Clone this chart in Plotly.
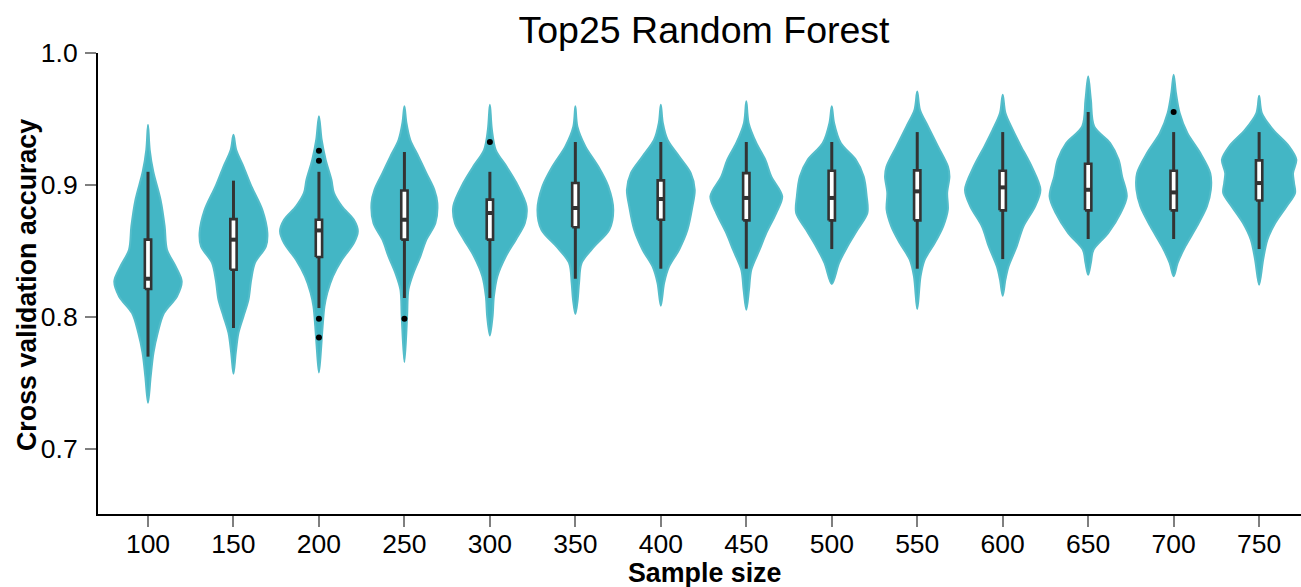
import plotly.graph_objects as go

# Sample sizes on the x axis
sample_sizes = ["100", "150", "200", "250", "300", "350", "400",
                "450", "500", "550", "600", "650", "700", "750"]

# Kernel density outline of each violin: accuracy levels (ascending) and relative density
density_levels = [
    [0.735, 0.755, 0.773, 0.788, 0.803, 0.8156, 0.827, 0.8383, 0.851, 0.8686, 0.889, 0.910, 0.9267, 0.9457],
    [0.757, 0.773, 0.788, 0.8005, 0.813, 0.828, 0.841, 0.8535, 0.8636, 0.881, 0.899, 0.914, 0.9267, 0.938],
    [0.758, 0.778, 0.793, 0.808, 0.8182, 0.8308, 0.8434, 0.856, 0.865, 0.8737, 0.8838, 0.894, 0.904, 0.9192, 0.9343, 0.952],
    [0.766, 0.8005, 0.8207, 0.8333, 0.846, 0.8586, 0.871, 0.8864, 0.8964, 0.909, 0.9217, 0.9343, 0.947, 0.9596],
    [0.786, 0.8005, 0.8156, 0.8308, 0.846, 0.8586, 0.871, 0.8838, 0.9015, 0.914, 0.9267, 0.9419, 0.9608],
    [0.8023, 0.813, 0.8258, 0.841, 0.8535, 0.8661, 0.8813, 0.899, 0.914, 0.9293, 0.9444, 0.9596],
    [0.8086, 0.8258, 0.8383, 0.851, 0.8661, 0.8838, 0.8964, 0.909, 0.9217, 0.9343, 0.947, 0.9608],
    [0.8055, 0.8207, 0.8358, 0.851, 0.8636, 0.8788, 0.8914, 0.9065, 0.9192, 0.9318, 0.947, 0.9634],
    [0.825, 0.841, 0.8535, 0.8661, 0.8788, 0.8914, 0.9065, 0.9192, 0.9318, 0.947, 0.9596],
    [0.806, 0.8308, 0.8434, 0.856, 0.8687, 0.8813, 0.894, 0.9065, 0.914, 0.9293, 0.9444, 0.957, 0.9709],
    [0.8161, 0.8283, 0.8383, 0.8535, 0.8687, 0.8838, 0.8964, 0.914, 0.9293, 0.9419, 0.9545, 0.9684],
    [0.832, 0.841, 0.851, 0.8636, 0.8788, 0.8914, 0.9065, 0.9192, 0.9318, 0.9444, 0.9646, 0.9823],
    [0.8308, 0.841, 0.8535, 0.8687, 0.8838, 0.8964, 0.909, 0.9242, 0.9394, 0.9545, 0.9697, 0.9836],
    [0.8245, 0.8434, 0.8586, 0.871, 0.8838, 0.894, 0.9015, 0.909, 0.9192, 0.9293, 0.9419, 0.9545, 0.9676],
]
density_values = [
    [0, 2.7, 5.5, 9.7, 16, 29, 33.8, 27.7, 19, 16.7, 12.5, 5.3, 1.7, 0],
    [0, 2.3, 5, 10, 15, 17.7, 21.5, 32.5, 34, 29, 18, 10, 2.7, 0],
    [0, 2.3, 3.7, 5.5, 8.3, 14, 23, 35, 39, 35, 23, 15, 12.5, 6.7, 2.7, 0],
    [0, 2.7, 4, 9, 16, 22, 31, 33, 30, 22, 14, 5.8, 2, 0],
    [0, 2.7, 4, 7.5, 16, 26, 35, 36.7, 26.7, 16.7, 5.8, 2, 0],
    [0, 2.3, 3.7, 6.3, 19, 34, 38, 33, 23, 10, 2, 0],
    [0, 3.3, 8.3, 18.3, 26.7, 31.7, 34, 30, 18.3, 6.7, 2, 0],
    [0, 2.7, 5, 13.3, 20, 30, 36, 25, 19, 10, 2.3, 0],
    [0, 7.3, 15.7, 25.7, 35.7, 35, 32, 24, 9, 2.3, 0],
    [0, 3.3, 7.5, 17.5, 26, 30.7, 30, 32.3, 30.8, 20.8, 10.8, 2.7, 0],
    [0, 2.7, 5.8, 14, 20.8, 32.5, 37.8, 29, 18.3, 10, 2.7, 0],
    [0, 2.7, 5.3, 20, 32.5, 38.7, 34, 30.5, 22, 6, 2.7, 0],
    [0, 4, 11.7, 23.3, 33.3, 37.3, 36.7, 26.7, 13.7, 6, 2.3, 0],
    [0, 4, 8.3, 16, 27.5, 36, 35, 34, 37.3, 30, 14, 2.7, 0],
]

# Box plot statistics per sample size
whisker_low = [0.770, 0.7917, 0.8068, 0.8144, 0.8144, 0.829, 0.8366, 0.8366, 0.8515, 0.8366, 0.8439, 0.8591, 0.8591, 0.8515]
quartile_1 = [0.8212, 0.8358, 0.8455, 0.8586, 0.8586, 0.868, 0.8737, 0.8732, 0.8732, 0.8732, 0.8808, 0.8808, 0.8808, 0.8883]
medians = [0.829, 0.8586, 0.8656, 0.8737, 0.8788, 0.8826, 0.8894, 0.8902, 0.8902, 0.8952, 0.8982, 0.8964, 0.8944, 0.9015]
quartile_3 = [0.8586, 0.8742, 0.8737, 0.8959, 0.8889, 0.9015, 0.9035, 0.909, 0.9108, 0.9111, 0.9108, 0.9161, 0.9108, 0.9187]
whisker_high = [0.910, 0.9033, 0.910, 0.925, 0.910, 0.9326, 0.9326, 0.9326, 0.9326, 0.9401, 0.9401, 0.9553, 0.9401, 0.9401]

# Outlying runs
outlier_sizes = ["200", "200", "200", "200", "250", "300", "700"]
outlier_values = [0.926, 0.9184, 0.7987, 0.7845, 0.7987, 0.9326, 0.9553]

# y-axis ticks
y_ticks = [0.7, 0.8, 0.9, 1.0]

FILL = "#43B6C5"
EDGE = "#55BDCA"
BOX_LINE = "#333333"
MAX_HALF_WIDTH = 0.455
BOX_HALF = 0.037

peak = max(max(v) for v in density_values)
positions = list(range(len(sample_sizes)))

fig = go.Figure()

# violins
for pos, levels, dens in zip(positions, density_levels, density_values):
    half = [d / peak * MAX_HALF_WIDTH for d in dens]
    xs = [pos + h for h in half] + [pos - h for h in reversed(half[1:-1])]
    ys = list(levels) + list(reversed(levels[1:-1]))
    xs.append(xs[0])
    ys.append(ys[0])
    fig.add_trace(go.Scatter(
        x=xs, y=ys, mode="lines", fill="toself", fillcolor=FILL,
        line=dict(color=EDGE, width=2, shape="spline", smoothing=0.9),
        hoverinfo="skip", showlegend=False,
    ))

# whiskers
wx, wy = [], []
for pos, lo, q1, q3, hi in zip(positions, whisker_low, quartile_1, quartile_3, whisker_high):
    wx += [pos, pos, None, pos, pos, None]
    wy += [lo, q1, None, q3, hi, None]
fig.add_trace(go.Scatter(x=wx, y=wy, mode="lines",
                         line=dict(color=BOX_LINE, width=3),
                         hoverinfo="skip", showlegend=False))

# boxes
for pos, q1, q3 in zip(positions, quartile_1, quartile_3):
    fig.add_trace(go.Scatter(
        x=[pos - BOX_HALF, pos + BOX_HALF, pos + BOX_HALF, pos - BOX_HALF, pos - BOX_HALF],
        y=[q1, q1, q3, q3, q1], mode="lines", fill="toself", fillcolor="white",
        line=dict(color=BOX_LINE, width=2.6), hoverinfo="skip", showlegend=False,
    ))

# medians
mx, my = [], []
for pos, med in zip(positions, medians):
    mx += [pos - BOX_HALF, pos + BOX_HALF, None]
    my += [med, med, None]
fig.add_trace(go.Scatter(x=mx, y=my, mode="lines",
                         line=dict(color=BOX_LINE, width=4),
                         hoverinfo="skip", showlegend=False))

pos_of = {s: i for i, s in enumerate(sample_sizes)}
fig.add_trace(go.Scatter(
    x=[pos_of[s] for s in outlier_sizes], y=outlier_values, mode="markers",
    marker=dict(color="black", size=6), showlegend=False,
))

fig.update_layout(
    width=1301, height=587, autosize=False,
    margin=dict(l=98, r=0, t=53, b=73),
    plot_bgcolor="white", paper_bgcolor="white",
    font=dict(family="Liberation Sans, Arial, sans-serif", color="black"),
    title=dict(text="Top25 Random Forest", x=704 / 1301, xanchor="center",
               y=1 - 30 / 587, yanchor="middle", font=dict(size=37.5, color="black")),
    xaxis=dict(
        range=[-0.585, 13.49], tickmode="array", tickvals=positions, ticktext=sample_sizes,
        showline=True, linecolor="black", linewidth=2, mirror=False,
        ticks="outside", ticklen=11, tickwidth=2, tickcolor="#7f7f7f",
        showgrid=False, zeroline=False, tickfont=dict(size=26.5, color="black"),
        ticklabelstandoff=-6,
    ),
    yaxis=dict(
        range=[0.6508, 1.0], tickmode="array", tickvals=y_ticks, tickformat=".1f",
        showline=True, linecolor="black", linewidth=2,
        ticks="outside", ticklen=11, tickwidth=2, tickcolor="#7f7f7f",
        showgrid=False, zeroline=False, tickfont=dict(size=26.5, color="black"),
        ticklabelstandoff=2,
    ),
    annotations=[
        dict(text="<b>Sample size</b>", xref="paper", yref="paper",
             x=(704 - 98) / (1301 - 98), y=(514 - 573) / 461,
             xanchor="center", yanchor="middle", showarrow=False,
             font=dict(size=26.8, color="black")),
        dict(text="<b>Cross validation accuracy</b>", xref="paper", yref="paper",
             x=(27 - 98) / (1301 - 98), y=(514 - 285) / 461, textangle=-90,
             xanchor="center", yanchor="middle", showarrow=False,
             font=dict(size=26.8, color="black")),
    ],
)

fig.write_html("out.html")
